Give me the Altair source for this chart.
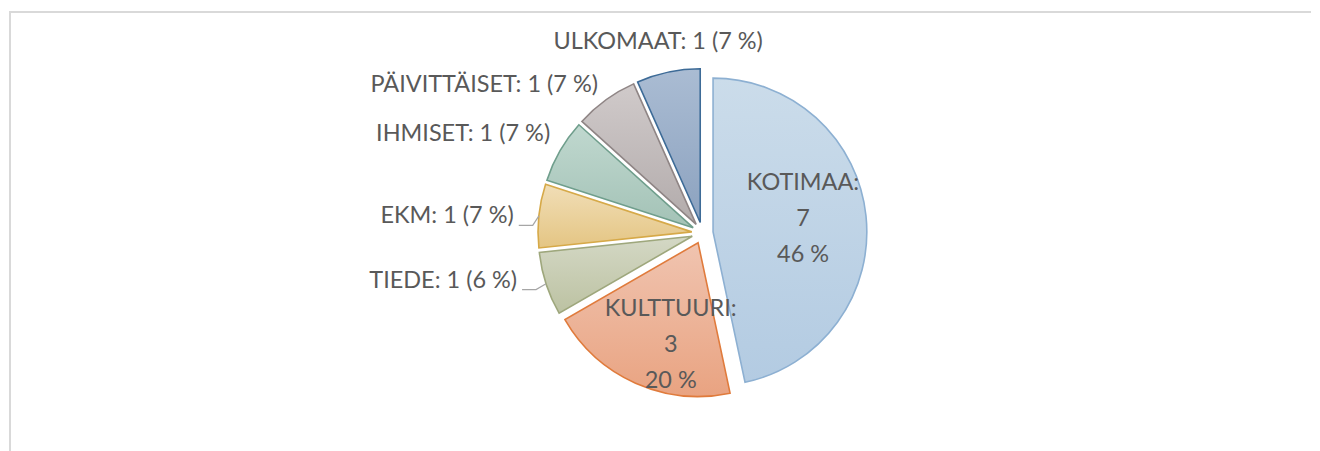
import altair as alt
import pandas as pd
import numpy as np

# ---------------- data ----------------
categories = ["Kotimaa", "Kulttuuri", "Tiede", "EKM", "Ihmiset", "Päivittäiset", "Ulkomaat"]
values = [7, 3, 1, 1, 1, 1, 1]
percents = [46, 20, 6, 7, 7, 7, 7]

# ---------------- style ----------------
W, H = 1304, 441          # plot area
U = 154.0                 # pie radius (px)
CX, CY = 694.5, 222.0     # pie centre inside plot (px)
EXPLODE = 10.7            # slice explosion (px)
FONT = "Lato"
FONT_SIZE = 23.5
LINE_H = 36
TEXT_COLOR = "#595959"

fills = {
    "Kotimaa":      ("#cbdcea", "#b3cbe2", "#8db0d2"),
    "Kulttuuri":    ("#f0c4b0", "#e9a381", "#e07b3c"),
    "Tiede":        ("#d4d8c5", "#bcc2a2", "#9ea77c"),
    "EKM":          ("#f1deb7", "#e4c583", "#d6a948"),
    "Ihmiset":      ("#c0d8cf", "#a3c2b6", "#6f9e8c"),
    "Päivittäiset": ("#d0caca", "#b2abab", "#8f8585"),
    "Ulkomaat":     ("#aabcd3", "#8ca2bf", "#3d6b97"),
}
# label placement: distance from slice apex (px), angle nudge (deg), kind
label_style = {
    "Kotimaa":      (91, -2.0, "inside"),
    "Kulttuuri":    (106, -9.0, "inside"),
    "Tiede":        (181, 3.8, "left"),
    "EKM":          (179, -1.0, "left"),
    "Ihmiset":      (171, 3.1, "left"),
    "Päivittäiset": (171, 0.9, "left"),
    "Ulkomaat":     (186, -1.1, "top"),
}
leaders = ["Tiede", "EKM"]

# ---------------- geometry (in pie-radius units) ----------------
vals = np.array(values, dtype=float)
total = vals.sum()
t1 = np.cumsum(vals)
t0 = t1 - vals
mid = (t0 + t1) / 2 / total * 2 * np.pi
ox = EXPLODE / U * np.sin(mid)
oy = -EXPLODE / U * np.cos(mid)

slices = pd.DataFrame({"cat": categories, "value": values, "t0": t0, "t1": t1, "ox": ox, "oy": oy})

xs = alt.Scale(domain=[-CX / U, (W - CX) / U], nice=False, zero=False)
ys = alt.Scale(domain=[-CY / U, (H - CY) / U], reverse=True, nice=False, zero=False)

layers = []
for c in categories:
    top, bot, stroke = fills[c]
    grad = alt.Gradient(
        gradient="linear",
        stops=[alt.GradientStop(color=top, offset=0), alt.GradientStop(color=bot, offset=1)],
        x1=0, x2=0, y1=0, y2=1,
    )
    layers.append(
        alt.Chart(slices)
        .transform_filter(alt.datum.cat == c)
        .mark_arc(radius=U, fill=grad, stroke=stroke, strokeWidth=1.6)
        .encode(
            x=alt.X("ox:Q", scale=xs, axis=None),
            y=alt.Y("oy:Q", scale=ys, axis=None),
            theta=alt.Theta("t0:Q", scale=alt.Scale(domain=[0, total], range=[0, 2 * np.pi])),
            theta2="t1:Q",
        )
    )

# labels (category names shown in capitals, as in the small-caps original)
rows = []
lead_rows = []
for i, c in enumerate(categories):
    r, d, kind = label_style[c]
    a = mid[i] + np.deg2rad(d)
    lx = ox[i] + r / U * np.sin(a)
    ly = oy[i] - r / U * np.cos(a)
    name = c.upper()
    if kind == "inside":
        txt = f"{name}:\n{values[i]}\n{percents[i]} %"
    else:
        txt = f"{name}: {values[i]} ({percents[i]} %)"
    rows.append({"cat": c, "lx": lx, "ly": ly, "text": txt, "kind": kind})
    if c in leaders:
        ex = ox[i] + np.sin(mid[i])
        ey = oy[i] - np.cos(mid[i])
        pts = [(lx + 5 / U, ly + 9 / U), (lx + 19 / U, ly + 9 / U), (ex, ey)]
        for k, (px, py) in enumerate(pts):
            lead_rows.append({"cat": c, "k": k, "lx": px, "ly": py})
labels = pd.DataFrame(rows)
leads = pd.DataFrame(lead_rows)

layers.append(
    alt.Chart(leads)
    .mark_line(color="#a6a6a6", strokeWidth=1.2)
    .encode(
        x=alt.X("lx:Q", scale=xs, axis=None),
        y=alt.Y("ly:Q", scale=ys, axis=None),
        detail="cat:N",
        order="k:Q",
    )
)

for kind, align in [("inside", "center"), ("top", "center"), ("left", "right")]:
    kw = dict(font=FONT, fontSize=FONT_SIZE, color=TEXT_COLOR, align=align, baseline="middle")
    if kind == "inside":
        kw.update(lineBreak="\n", lineHeight=LINE_H, dy=-LINE_H)
    layers.append(
        alt.Chart(labels)
        .transform_filter(alt.datum.kind == kind)
        .mark_text(**kw)
        .encode(
            x=alt.X("lx:Q", scale=xs, axis=None),
            y=alt.Y("ly:Q", scale=ys, axis=None),
            text="text:N",
        )
    )

# chart-area frame (left and top edges visible)
frame_top = alt.Chart(slices).mark_rule(color="#d9d9d9", strokeWidth=1.5).encode(
    x=alt.value(0), x2=alt.value(W), y=alt.value(0.75)
)
frame_left = alt.Chart(slices).mark_rule(color="#d9d9d9", strokeWidth=1.5).encode(
    x=alt.value(0.75), y=alt.value(0), y2=alt.value(H)
)

chart = (
    alt.layer(frame_top, frame_left, *layers)
    .properties(width=W, height=H, padding={"left": 0, "top": 2, "right": 0, "bottom": 0})
    .configure_view(stroke=None)
)

chart.save("out.html", embed_options={"renderer": "svg", "actions": False})
